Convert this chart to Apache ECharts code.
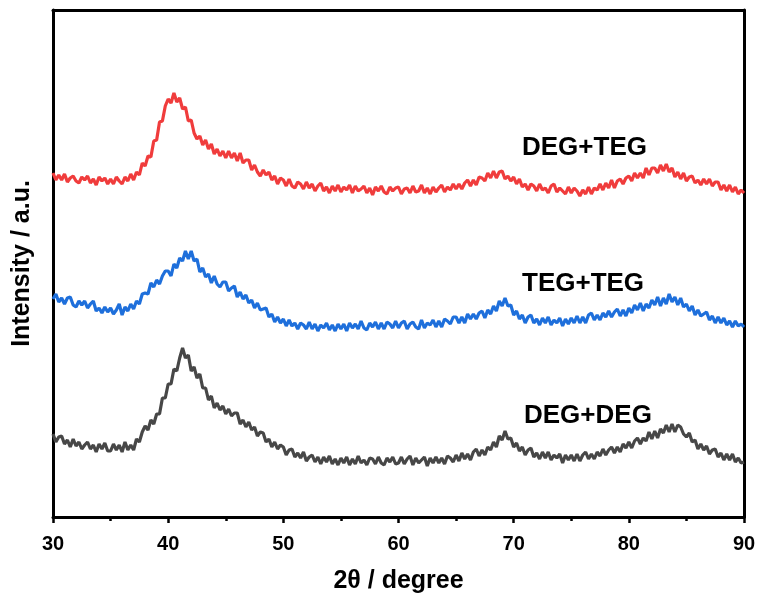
<!DOCTYPE html>
<html>
<head>
<meta charset="utf-8">
<title>XRD</title>
<script src="https://cdn.jsdelivr.net/npm/echarts@6/dist/echarts.min.js"></script>
<style>
  html, body { margin: 0; padding: 0; background: #fff; }
  #chart { width: 760px; height: 605px; }
</style>
</head>
<body>
<div id="chart"></div>
<script>
// scan: 30 -> 90 deg, step 0.25 deg
const scanStart = 30
const scanStep = 0.25
const xTicks = [30, 40, 50, 60, 70, 80, 90]

const sampleNames = ['DEG+TEG', 'TEG+TEG', 'DEG+DEG']
const sampleColors = ['#f03c3c', '#1e6fdb', '#474747']

// intensity (a.u., stacked offsets as in the figure)
const degTeg = [
  346,339,344,339,345,337,341,343,338,336,342,339,343,336,340,334,342,338,341,335,
  340,335,342,338,335,342,338,345,339,347,344,356,353,363,362,378,379,397,398,413,
  420,416,426,417,421,410,412,398,399,386,380,383,374,379,370,375,365,370,363,368,
  361,368,361,366,358,366,356,359,359,349,354,347,343,349,344,347,339,343,335,341,
  339,333,340,333,331,337,335,330,337,331,335,328,333,336,328,332,326,333,328,334,
  327,332,329,334,326,333,328,330,333,326,331,324,332,328,333,327,325,332,328,331,
  332,325,330,331,326,333,327,328,334,326,331,325,332,327,331,334,327,332,329,335,
  330,335,330,336,339,333,339,334,342,341,338,346,341,348,341,347,348,340,343,338,
  342,335,340,332,335,329,335,333,328,335,329,331,326,333,335,327,331,328,325,332,
  326,331,328,323,329,325,332,325,331,329,335,329,336,331,339,331,338,340,335,341,
  343,338,346,341,346,341,351,344,351,351,346,354,348,355,347,351,342,347,340,346,
  338,342,343,336,339,334,340,335,340,333,337,337,329,334,328,334,327,332,325,329,
  326
]
const tegTeg = [
  220,225,217,221,215,221,222,214,212,218,214,218,211,215,218,208,211,206,212,207,
  211,205,209,215,204,212,208,215,210,218,215,225,226,225,236,232,239,235,243,248,
  248,243,255,251,261,258,268,260,268,258,260,247,251,242,245,236,243,235,232,237,
  237,228,231,233,222,227,220,224,216,219,211,216,209,210,211,202,205,197,202,196,
  200,193,199,193,196,190,196,194,190,197,190,195,188,194,191,196,189,194,188,195,
  190,195,188,196,191,195,190,198,191,189,196,192,197,190,196,190,197,195,191,198,
  191,196,198,190,195,197,192,190,199,191,196,194,199,192,198,192,200,198,195,202,
  202,196,202,196,205,200,205,200,206,208,201,209,205,213,208,218,213,221,213,214,
  204,208,200,204,196,202,204,196,200,194,201,196,202,194,199,196,201,193,200,195,
  201,196,203,196,202,196,204,206,199,204,199,206,202,208,202,207,210,203,209,203,
  211,206,214,209,216,208,215,211,219,214,222,213,221,215,225,217,222,214,221,212,
  215,208,213,204,209,203,205,207,199,203,196,202,196,201,194,198,192,198,193,195,
  192
]
const degDeg = [
  85,77,82,83,75,79,72,80,73,77,70,74,77,70,74,67,75,70,76,68,
  68,75,69,74,67,77,69,74,69,80,77,87,93,89,99,95,105,105,121,121,
  135,135,150,148,161,171,161,164,148,152,141,145,131,131,119,123,111,116,109,113,
  105,110,103,106,106,95,99,92,97,89,92,83,87,86,77,80,72,77,70,74,
  72,64,69,70,62,66,61,67,58,62,64,57,62,55,62,57,63,55,60,54,
  61,56,62,54,60,55,63,56,59,54,61,60,55,62,56,54,61,57,62,55,
  56,62,55,60,63,54,61,56,59,62,53,61,56,62,56,61,55,63,61,57,
  64,58,66,60,65,59,67,70,63,69,64,72,69,77,72,83,79,88,80,81,
  72,76,68,72,64,69,71,62,66,60,67,61,67,59,64,61,65,56,64,59,
  64,58,65,58,64,67,60,65,60,67,63,70,64,69,72,66,72,67,75,71,
  77,71,78,81,75,81,78,87,80,88,81,90,86,94,87,95,87,94,92,85,
  82,86,77,79,70,75,69,73,65,69,70,62,66,59,65,59,65,57,61,56,
  57
]

const allSeries = [degTeg, tegTeg, degDeg]
const font = "'Liberation Sans', Arial, Helvetica, sans-serif"

function withAngles(values) {
  return values.map((v, i) => [scanStart + i * scanStep, v])
}

const chart = echarts.init(document.getElementById('chart'))

const axisLine = { show: true, onZero: false, lineStyle: { color: '#000', width: 3 } }

const option = {
  animation: false,
  grid: { left: 53, right: 16, top: 10, bottom: 88 },
  xAxis: [
    {
      type: 'value',
      min: xTicks[0],
      max: xTicks[xTicks.length - 1],
      interval: 10,
      position: 'bottom',
      axisLine: axisLine,
      axisTick: { show: true, length: 6, lineStyle: { color: '#000', width: 2.5 } },
      minorTick: { show: true, splitNumber: 2, length: 4, lineStyle: { color: '#000', width: 2.5 } },
      splitLine: { show: false },
      axisLabel: { margin: 17, color: '#000', fontSize: 20, fontWeight: 'bold', fontFamily: font },
      name: '2θ / degree',
      nameLocation: 'middle',
      nameGap: 52,
      nameTextStyle: { color: '#000', fontSize: 25, fontWeight: 'bold', fontFamily: font }
    },
    {
      type: 'value',
      min: xTicks[0],
      max: xTicks[xTicks.length - 1],
      position: 'top',
      axisLine: axisLine,
      axisTick: { show: false },
      axisLabel: { show: false },
      splitLine: { show: false }
    }
  ],
  yAxis: [
    {
      type: 'value',
      min: 2,
      max: 509,
      position: 'left',
      axisLine: axisLine,
      axisTick: { show: false },
      axisLabel: { show: false },
      splitLine: { show: false },
      name: 'Intensity / a.u.',
      nameLocation: 'middle',
      nameGap: 18,
      nameTextStyle: { color: '#000', fontSize: 25, fontWeight: 'bold', fontFamily: font }
    },
    {
      type: 'value',
      min: 2,
      max: 509,
      position: 'right',
      axisLine: axisLine,
      axisTick: { show: false },
      axisLabel: { show: false },
      splitLine: { show: false }
    }
  ],
  series: allSeries.map((vals, k) => ({
    name: sampleNames[k],
    type: 'line',
    xAxisIndex: 0,
    yAxisIndex: 0,
    data: withAngles(vals),
    showSymbol: false,
    symbol: 'none',
    lineStyle: { color: sampleColors[k], width: 3.2, join: 'bevel' },
    z: 2
  })),
  graphic: [
    { type: 'text', x: 522, y: 148, style: { text: sampleNames[0], fill: '#000', font: 'bold 26px ' + font, textVerticalAlign: 'middle' } },
    { type: 'text', x: 522, y: 284, style: { text: sampleNames[1], fill: '#000', font: 'bold 26px ' + font, textVerticalAlign: 'middle' } },
    { type: 'text', x: 524, y: 416, style: { text: sampleNames[2], fill: '#000', font: 'bold 26px ' + font, textVerticalAlign: 'middle' } }
  ]
}

chart.setOption(option)
</script>
</body>
</html>
